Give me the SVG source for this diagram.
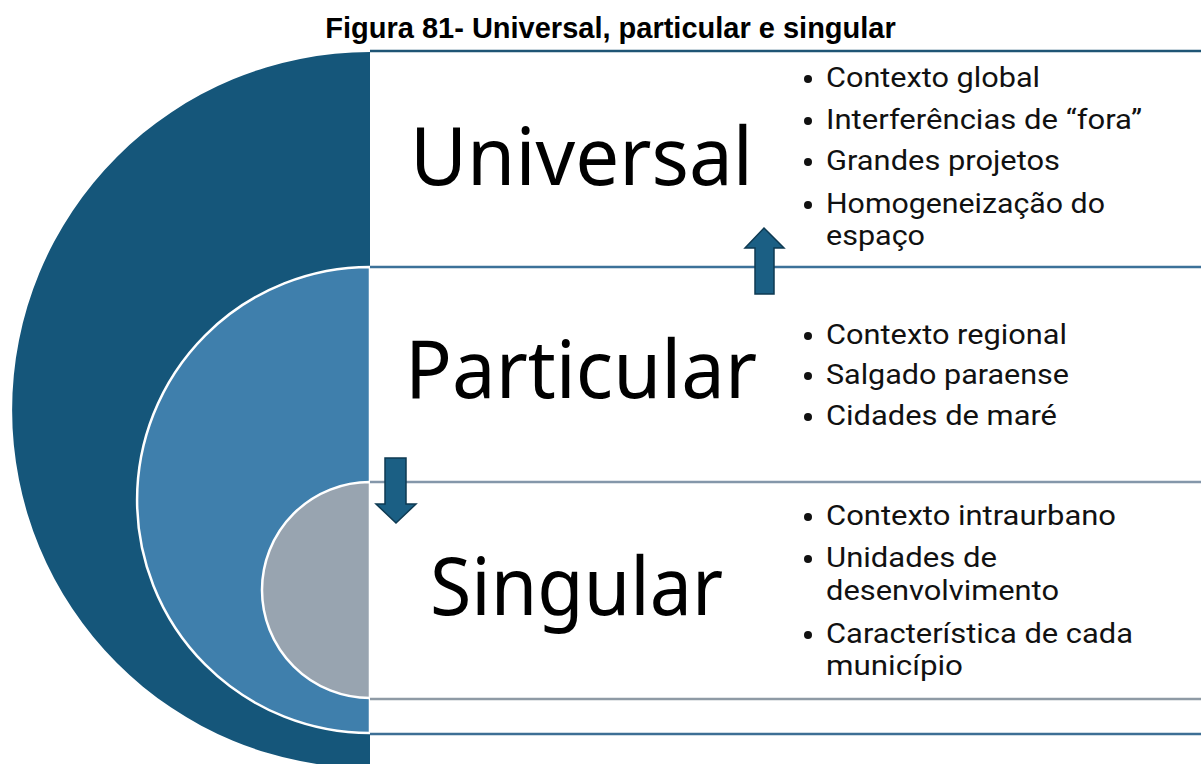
<svg xmlns="http://www.w3.org/2000/svg" width="1201" height="764" viewBox="0 0 1201 764">
  <style>
    .title { font-family: "Liberation Sans", Arial, sans-serif; font-weight: bold; font-size: 29px; fill: #000; }
    .big { font-family: "Noto Sans", "Open Sans", sans-serif; font-size: 80px; fill: #000; }
    .item { font-family: Roboto, "Noto Sans", sans-serif; font-size: 27px; fill: #111; }
    .dot { fill: #111; }
    .sep { fill: none; stroke-width: 2.5; }
    .ring { stroke: #ffffff; stroke-width: 2.5; }
    .arrow { fill: #1b5f84; stroke: #0e3a52; stroke-width: 1.5; stroke-linejoin: miter; }
  </style>
  <rect x="0" y="0" width="1201" height="764" fill="#ffffff"/>
  <text class="title" x="610.5" y="38" text-anchor="middle">Figura 81- Universal, particular e singular</text>

  <g id="universal">
    <path d="M370,52 A358,358 0 0 0 370,768 Z" fill="#15567a"/>
    <line class="sep" x1="370" y1="51" x2="1201" y2="51" stroke="#1f5575" stroke-width="3"/>
    <text class="big" x="410" y="185" textLength="343" lengthAdjust="spacingAndGlyphs">Universal</text>
    <circle class="dot" cx="808" cy="79" r="4"/>
    <text class="item" x="826" y="87" textLength="214" lengthAdjust="spacingAndGlyphs">Contexto global</text>
    <circle class="dot" cx="808" cy="121" r="4"/>
    <text class="item" x="826" y="129" textLength="316" lengthAdjust="spacingAndGlyphs">Interferências de “fora”</text>
    <circle class="dot" cx="808" cy="162" r="4"/>
    <text class="item" x="826" y="170" textLength="234" lengthAdjust="spacingAndGlyphs">Grandes projetos</text>
    <circle class="dot" cx="808" cy="205" r="4"/>
    <text class="item" x="826" y="213" textLength="279" lengthAdjust="spacingAndGlyphs">Homogeneização do</text>
    <text class="item" x="826" y="245" textLength="99" lengthAdjust="spacingAndGlyphs">espaço</text>
  </g>

  <g id="particular">
    <path class="ring" d="M370,267 A233,233 0 0 0 370,733 Z" fill="#3f7fac"/>
    <line class="sep" x1="370" y1="267" x2="1201" y2="267" stroke="#3c7199"/>
    <line class="sep" x1="370" y1="734" x2="1201" y2="734" stroke="#3d6f95"/>
    <text class="big" x="405" y="398" textLength="352" lengthAdjust="spacingAndGlyphs">Particular</text>
    <circle class="dot" cx="808" cy="336" r="4"/>
    <text class="item" x="826" y="344" textLength="241" lengthAdjust="spacingAndGlyphs">Contexto regional</text>
    <circle class="dot" cx="808" cy="376" r="4"/>
    <text class="item" x="826" y="384" textLength="243" lengthAdjust="spacingAndGlyphs">Salgado paraense</text>
    <circle class="dot" cx="808" cy="417" r="4"/>
    <text class="item" x="826" y="425" textLength="231" lengthAdjust="spacingAndGlyphs">Cidades de maré</text>
  </g>

  <g id="singular">
    <path class="ring" d="M370,482 A108,108 0 0 0 370,698 Z" fill="#98a4b0"/>
    <line class="sep" x1="370" y1="482" x2="1201" y2="482" stroke="#8497aa"/>
    <line class="sep" x1="370" y1="699" x2="1201" y2="699" stroke="#8e9aa5"/>
    <text class="big" x="430" y="615" textLength="293" lengthAdjust="spacingAndGlyphs">Singular</text>
    <circle class="dot" cx="808" cy="517" r="4"/>
    <text class="item" x="826" y="525" textLength="290" lengthAdjust="spacingAndGlyphs">Contexto intraurbano</text>
    <circle class="dot" cx="808" cy="559" r="4"/>
    <text class="item" x="826" y="567" textLength="171" lengthAdjust="spacingAndGlyphs">Unidades de</text>
    <text class="item" x="826" y="600" textLength="233" lengthAdjust="spacingAndGlyphs">desenvolvimento</text>
    <circle class="dot" cx="808" cy="635" r="4"/>
    <text class="item" x="826" y="643" textLength="307" lengthAdjust="spacingAndGlyphs">Característica de cada</text>
    <text class="item" x="826" y="675" textLength="137" lengthAdjust="spacingAndGlyphs">município</text>
  </g>

  <g id="connectors">
    <polygon class="arrow" points="764,228 784,248 774,248 774,294 755,294 755,248 745,248"/>
    <polygon class="arrow" points="385,458 406,458 406,504 416,504 396,523 376,504 385,504"/>
  </g>
</svg>
